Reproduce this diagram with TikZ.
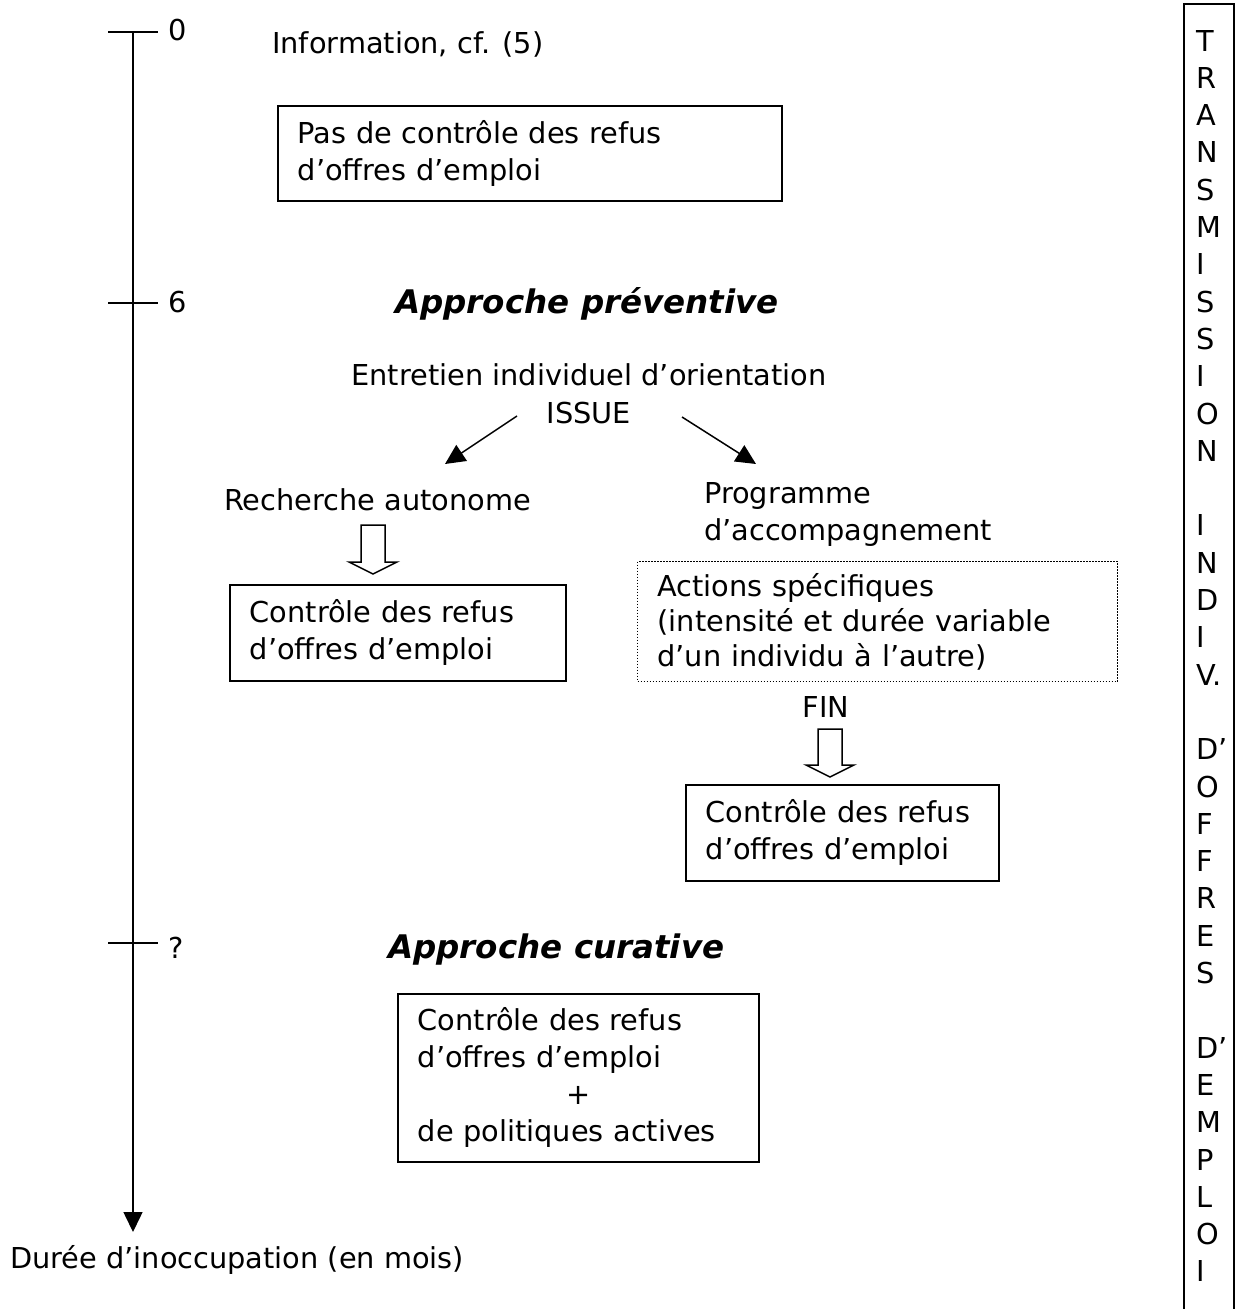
\documentclass[tikz,border=0pt]{standalone}
\usepackage{fontspec}
\setmainfont{DejaVu Sans}
\usetikzlibrary{arrows.meta}
\begin{document}
\begin{tikzpicture}[x=1pt, y=-1pt, >={Triangle[length=20pt,width=19pt]},
  every node/.style={inner sep=0pt, font=\fontsize{28.8}{37}\selectfont},
  txt/.style={anchor=base west},
  titre/.style={anchor=base west, font=\fontsize{32.5}{39}\selectfont\bfseries\itshape},
  cadre/.style={draw, line width=1.5pt, anchor=north west, align=left, inner xsep=20pt}]
\useasboundingbox (0,0) rectangle (1237,1309);

% axe du temps
\coordinate (t0) at (133,32);
\coordinate (tfin) at (133,1232);
\draw[->, line width=1.5pt] (t0)--(tfin);
\foreach \y/\ytext/\yb [count=\i] in {32/0/40, 303/6/312, 943/?/958}
{
    \draw[line width=1.5pt] (108,\y)--(158,\y);
    \node[txt] (mois\i) at (168,\yb) {\ytext};
}
\node[txt] (duree) at (10,1268) {Durée d’inoccupation (en mois)};

% debut
\node[txt] (info) at (272,53) {Information, cf. (5)};
\node[cadre, text width=464pt, minimum height=95pt] (pasctrl) at (277,105) {Pas de contrôle des refus\\d’offres d’emploi};

% approche preventive
\node[titre] (prev) at (395,313) {Approche préventive};
\node[anchor=base] (entretien) at (589,385) {Entretien individuel d’orientation};
\node[anchor=base] (issue) at (589,423) {ISSUE};
\coordinate (g0) at (517,416);
\coordinate (g1) at (445,464);
\coordinate (d0) at (682,417);
\coordinate (d1) at (756,464);
\draw[->, line width=1.5pt] (g0)--(g1);
\draw[->, line width=1.5pt] (d0)--(d1);

\node[txt] (rech) at (224,510) {Recherche autonome};
\node[anchor=north west, align=left] (prog) at (704,482) {Programme\\d’accompagnement};
\node[cadre, text width=296pt, minimum height=96pt] (ctrlA) at (229,584) {Contrôle des refus\\d’offres d’emploi};
\node[cadre, line width=1pt, dash pattern=on 1.5pt off 1.5pt, text width=440pt, minimum height=120pt,
  font=\fontsize{28.8}{35}\selectfont] (actions) at (637,561) {Actions spécifiques\\(intensité et durée variable\\d’un individu à l’autre)};
\node[anchor=base] (fin) at (826,717) {FIN};
\node[cadre, text width=273pt, minimum height=96pt] (ctrlB) at (685,784) {Contrôle des refus\\d’offres d’emploi};

% fleches creuses
\foreach \cx/\yh/\yt in {373/525/574, 830/729/777}
{
    \draw[line width=1.5pt] (\cx-12,\yh)--(\cx+12,\yh)--(\cx+12,\yt-12)--(\cx+24,\yt-12)
      --(\cx,\yt)--(\cx-24,\yt-12)--(\cx-12,\yt-12)--cycle;
}

% approche curative
\node[titre] (cur) at (388,958) {Approche curative};
\node[cadre, text width=321pt, minimum height=168pt] (ctrlC) at (397,993) {Contrôle des refus\\d’offres d’emploi\\\makebox[\linewidth]{+}\\de politiques actives};

% colonne de droite
\draw[line width=1.5pt] (1184,1309)--(1184,4)--(1234,4)--(1234,1309);
\foreach \l [count=\i] in {T,R,A,N,S,M,I,S,S,I,O,N,,I,N,D,I,V.,,D’,O,F,F,R,E,S,,D’,E,M,P,L,O,I}
    \node[txt] (lettre\i) at (1196,{51+37.3*(\i-1)}) {\l};
\end{tikzpicture}
\end{document}
